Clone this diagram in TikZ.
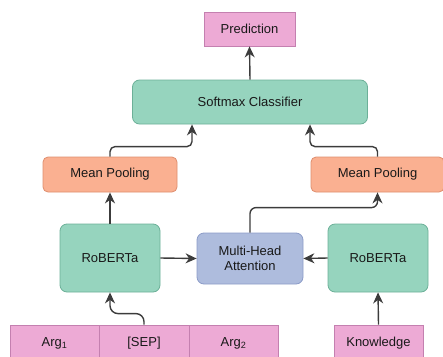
\documentclass[tikz,border=0pt]{standalone}
\usepackage{fontspec}
\setmainfont{Liberation Sans}
\usetikzlibrary{arrows.meta}
\definecolor{pinkf}{RGB}{237,170,213}
\definecolor{pinkd}{RGB}{196,128,176}
\definecolor{greenf}{RGB}{150,212,190}
\definecolor{greend}{RGB}{108,176,152}
\definecolor{orangef}{RGB}{250,176,145}
\definecolor{oranged}{RGB}{222,142,110}
\definecolor{bluef}{RGB}{174,188,221}
\definecolor{blued}{RGB}{140,156,200}
\definecolor{edgec}{RGB}{60,60,60}
\tikzset{
  box/.style={draw, line width=0.8pt, inner sep=0pt, align=center, text=black!90,
    font=\fontsize{13}{15.5}\selectfont},
  pinkbox/.style={box, fill=pinkf, draw=pinkd},
  greenbox/.style={box, fill=greenf, draw=greend, rounded corners=7pt},
  orangebox/.style={box, fill=orangef, draw=oranged, rounded corners=5pt},
  bluebox/.style={box, fill=bluef, draw=blued, rounded corners=7pt},
  arr/.style={draw=edgec, line width=1.4pt, -{Stealth[length=11pt,width=10pt,inset=3.5pt]}},
}
\begin{document}
\begin{tikzpicture}[x=1pt,y=-1pt]
\useasboundingbox (0,0) rectangle (443,356);
\node[pinkbox, minimum width=91pt, minimum height=34pt] (pred) at (249.5,29) {Prediction};
\node[greenbox, minimum width=235pt, minimum height=44pt] (soft) at (250,102) {Softmax Classifier};
\node[orangebox, minimum width=134pt, minimum height=35pt] (mpl) at (110,174.5) {Mean Pooling};
\node[orangebox, minimum width=133pt, minimum height=35pt] (mpr) at (377.5,174.5) {Mean Pooling};
\node[greenbox, minimum width=100pt, minimum height=68pt] (robl) at (110,258) {RoBERTa};
\node[bluebox, minimum width=106pt, minimum height=51pt] (mha) at (250,258.5) {Multi-Head\\Attention};
\node[greenbox, minimum width=100pt, minimum height=68pt] (robr) at (378,258) {RoBERTa};
\node[pinkbox, minimum width=89pt, minimum height=36pt] (arga) at (54.5,343) {Arg\textsubscript{1}};
\node[pinkbox, minimum width=90pt, minimum height=36pt] (sep) at (144,343) {[SEP]};
\node[pinkbox, minimum width=89pt, minimum height=36pt] (argb) at (233.5,343) {Arg\textsubscript{2}};
\node[pinkbox, minimum width=89pt, minimum height=36pt] (know) at (378.5,343) {Knowledge};

\draw[arr] (soft.north) -- (pred.south);
\draw[arr, rounded corners=5pt] (mpl.north) -- ++(0,-10) -| ([xshift=-58pt]soft.south);
\draw[arr, rounded corners=5pt] (mpr.north) -- ++(0,-10) -| ([xshift=60pt]soft.south);
\draw[arr] (robl.north) -- (mpl.south);
\draw[arr, rounded corners=6pt] (mha.north) -- ++(0,-25) -| (mpr.south);
\draw[arr] (robl.east) -- (mha.west);
\draw[arr] (robr.west) -- (mha.east);
\draw[arr, rounded corners=8pt] (sep.north) -- ++(0,-11) -| (robl.south);
\draw[arr] (know.north) -- (robr.south);
\end{tikzpicture}
\end{document}
